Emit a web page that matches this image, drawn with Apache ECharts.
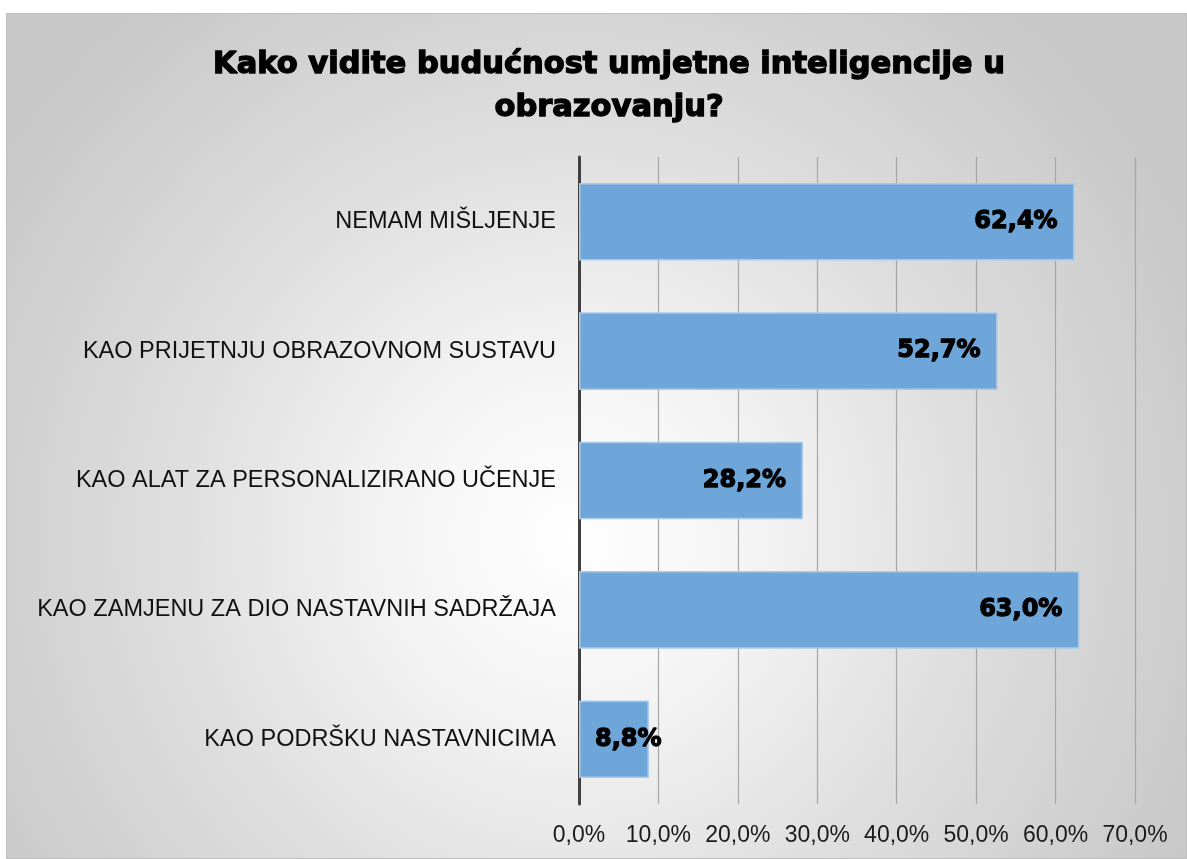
<!DOCTYPE html>
<html>
<head>
<meta charset="utf-8">
<script src="https://cdn.jsdelivr.net/npm/echarts@6/dist/echarts.min.js"></script>
<style>
  html, body { margin: 0; padding: 0; width: 1187px; height: 859px; background: #fff; overflow: hidden; }
  .frame {
    position: absolute; left: 6px; top: 13px; width: 1181px; height: 846px;
    border: 1px solid #bfbfbf; box-sizing: border-box;
    background: radial-gradient(circle at 48% 62%, #ffffff 0%, #f4f4f4 22%, #dedede 50%, #c8c8c8 85%);
  }
  #chart { position: absolute; left: 0; top: 0; width: 1187px; height: 859px; }
</style>
</head>
<body>
<div class="frame"></div>
<div id="chart"></div>
<script>
// odgovori i postoci
const categories = [
  "NEMAM MIŠLJENJE",
  "KAO PRIJETNJU OBRAZOVNOM SUSTAVU",
  "KAO ALAT ZA PERSONALIZIRANO UČENJE",
  "KAO ZAMJENU ZA DIO NASTAVNIH SADRŽAJA",
  "KAO PODRŠKU NASTAVNICIMA"
];
const values = [62.4, 52.7, 28.2, 63.0, 8.8];
const titleText = "Kako vidite budućnost umjetne inteligencije u\nobrazovanju?";

const fmt = (v) => v.toFixed(1).replace(".", ",") + "%";

const chart = echarts.init(document.getElementById("chart"));

const barData = values.map((v) => {
  // short bars: Excel lets the label run past the bar end
  if (v < 15) {
    return { value: v, label: { position: "insideLeft", distance: 16 } };
  }
  return v;
});

const options = {
  backgroundColor: "transparent",
  animation: false,
  title: {
    text: titleText,
    left: 604,
    top: 39,
    textAlign: "center",
    textStyle: {
      fontFamily: "DejaVu Sans",
      fontSize: 30.5,
      fontWeight: "bold",
      color: "#000",
      lineHeight: 43,
      textBorderColor: "#000",
      textBorderWidth: 1.4
    }
  },
  grid: {
    left: 579,
    right: 52,
    top: 157,
    bottom: 55,
    containLabel: false
  },
  xAxis: {
    type: "value",
    min: 0,
    max: 70,
    interval: 10,
    axisLine: { show: false },
    axisTick: { show: false },
    axisLabel: {
      margin: 20,
      fontFamily: "Arial, Liberation Sans, sans-serif",
      fontSize: 23,
      color: "#1a1a1a",
      formatter: (v) => fmt(v)
    },
    splitLine: {
      show: true,
      lineStyle: { color: "#a6a6a6", width: 1.2 }
    }
  },
  yAxis: {
    type: "category",
    data: categories,
    inverse: true,
    axisLine: {
      show: true,
      lineStyle: { color: "#404040", width: 3 }
    },
    axisTick: { show: false },
    axisLabel: {
      margin: 23,
      fontFamily: "Arial, Liberation Sans, sans-serif",
      fontSize: 23.5,
      color: "#111"
    }
  },
  series: [
    {
      type: "bar",
      data: barData,
      barWidth: "60%",
      itemStyle: {
        color: "#6fa6d9",
        borderColor: "#a9c9ea",
        borderWidth: 1.5
      },
      label: {
        show: true,
        position: "insideRight",
        distance: 17,
        fontFamily: "DejaVu Sans",
        fontSize: 24,
        fontWeight: "bold",
        color: "#000",
        textBorderColor: "#000",
        textBorderWidth: 1.3,
        formatter: (p) => fmt(p.value)
      }
    }
  ]
};

chart.setOption(options, true);
</script>
</body>
</html>
